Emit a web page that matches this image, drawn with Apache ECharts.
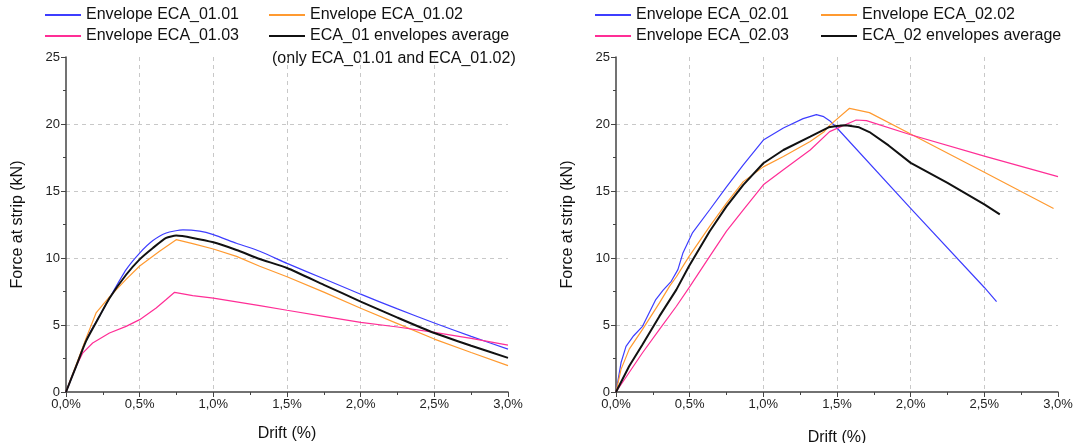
<!DOCTYPE html>
<html>
<head>
<meta charset="utf-8">
<script src="https://cdn.jsdelivr.net/npm/echarts@6/dist/echarts.min.js"></script>
<style>
  html, body { margin: 0; padding: 0; background: #fff; }
  #chart { width: 1073px; height: 443px; }
</style>
</head>
<body>
<div id="chart"></div>
<script>
// ECA_01 envelopes (drift in %, force in kN)
const d0101 = [0, 0.068, 0.136, 0.227, 0.295, 0.408, 0.5, 0.59, 0.68, 0.794, 0.907, 1.0, 1.157, 1.315, 1.5, 1.75, 2.0, 2.25, 2.5, 2.75, 3.0];
const f0101 = [0, 1.9, 3.9, 5.65, 7.0, 9.13, 10.37, 11.3, 11.87, 12.1, 12.0, 11.74, 11.1, 10.5, 9.6, 8.45, 7.3, 6.2, 5.15, 4.15, 3.2];

const d0102 = [0, 0.068, 0.136, 0.204, 0.295, 0.408, 0.5, 0.635, 0.748, 0.86, 1.0, 1.157, 1.315, 1.5, 1.75, 2.0, 2.25, 2.5, 2.75, 3.0];
const f0102 = [0, 2.0, 4.0, 5.9, 7.1, 8.4, 9.4, 10.5, 11.37, 11.07, 10.67, 10.12, 9.38, 8.6, 7.45, 6.25, 5.1, 3.95, 2.95, 1.97];

const d0103 = [0, 0.023, 0.068, 0.113, 0.181, 0.295, 0.408, 0.5, 0.612, 0.68, 0.737, 0.86, 1.0, 1.315, 1.5, 1.75, 2.0, 2.25, 2.5, 2.75, 3.0];
const f0103 = [0, 0.67, 1.9, 2.9, 3.66, 4.4, 4.9, 5.4, 6.27, 6.9, 7.44, 7.19, 7.0, 6.44, 6.1, 5.65, 5.2, 4.85, 4.45, 4.0, 3.5];

const d01avg = [0, 0.068, 0.136, 0.227, 0.295, 0.408, 0.5, 0.59, 0.68, 0.748, 0.86, 1.0, 1.157, 1.315, 1.5, 1.75, 2.0, 2.25, 2.5, 2.75, 3.0];
const f01avg = [0, 1.9, 3.8, 5.65, 7.0, 8.75, 9.9, 10.75, 11.5, 11.67, 11.5, 11.17, 10.6, 9.93, 9.25, 8.0, 6.75, 5.55, 4.4, 3.45, 2.55];

// ECA_02 envelopes
const d0201 = [0, 0.034, 0.068, 0.12, 0.18, 0.27, 0.32, 0.375, 0.42, 0.455, 0.52, 0.636, 0.75, 0.864, 1.0, 1.136, 1.27, 1.36, 1.41, 1.45, 1.5, 2.0, 2.5, 2.583];
const f0201 = [0, 2.18, 3.4, 4.2, 4.9, 6.9, 7.6, 8.26, 9.13, 10.4, 11.9, 13.6, 15.3, 16.95, 18.8, 19.7, 20.4, 20.7, 20.55, 20.25, 19.7, 13.7, 7.8, 6.74];

const d0202 = [0, 0.034, 0.09, 0.18, 0.295, 0.364, 0.41, 0.495, 0.636, 0.75, 0.864, 1.0, 1.136, 1.318, 1.41, 1.45, 1.585, 1.72, 2.0, 2.5, 2.97];
const f0202 = [0, 1.69, 3.2, 4.67, 6.65, 7.9, 8.6, 10.1, 12.36, 14.1, 15.7, 16.8, 17.57, 18.7, 19.4, 19.9, 21.17, 20.85, 19.26, 16.4, 13.7];

const d0203 = [0, 0.18, 0.295, 0.41, 0.495, 0.636, 0.75, 0.864, 1.0, 1.136, 1.318, 1.45, 1.63, 1.7, 2.0, 2.5, 3.0];
const f0203 = [0, 2.93, 4.67, 6.4, 7.77, 10.12, 12.0, 13.6, 15.46, 16.58, 18.06, 19.43, 20.3, 20.25, 19.2, 17.6, 16.07];

const d02avg = [0, 0.09, 0.18, 0.295, 0.41, 0.495, 0.636, 0.75, 0.864, 1.0, 1.136, 1.318, 1.443, 1.5, 1.56, 1.65, 1.72, 1.85, 2.0, 2.25, 2.5, 2.605];
const f02avg = [0, 1.94, 3.55, 5.66, 7.64, 9.38, 12.0, 13.85, 15.46, 17.07, 18.06, 19.06, 19.75, 19.85, 19.9, 19.75, 19.4, 18.4, 17.1, 15.6, 14.0, 13.26];

const xTicks = [0, 0.5, 1.0, 1.5, 2.0, 2.5, 3.0];
const yTicks = [0, 5, 10, 15, 20, 25];

const FONT = 'Liberation Sans, Arial, sans-serif';
const AXIS_COLOR = '#444';

const zip = (xs, ys) => xs.map((x, i) => [x, ys[i]]);

const chart = echarts.init(document.getElementById('chart'));

const makeX = (gridIndex, nameGap) => ({
  type: 'value',
  gridIndex,
  min: xTicks[0],
  max: xTicks[xTicks.length - 1],
  interval: 0.5,
  name: 'Drift (%)',
  nameLocation: 'middle',
  nameGap,
  nameTextStyle: { fontSize: 16, color: '#111', fontFamily: FONT },
  axisLine: { lineStyle: { color: AXIS_COLOR, width: 1.5 } },
  axisTick: { length: 5, lineStyle: { color: AXIS_COLOR } },
  minorTick: { show: true, splitNumber: 2, length: 3, lineStyle: { color: AXIS_COLOR } },
  axisLabel: {
    fontSize: 13, color: '#222', fontFamily: FONT, margin: 6,
    formatter: v => v.toFixed(1).replace('.', ',') + '%'
  },
  splitLine: {
    show: true, showMinLine: false, showMaxLine: false,
    lineStyle: { type: [4, 4], color: '#c8c8c8' }
  }
});

const makeY = (gridIndex) => ({
  type: 'value',
  gridIndex,
  min: yTicks[0],
  max: yTicks[yTicks.length - 1],
  interval: 5,
  name: 'Force at strip (kN)',
  nameLocation: 'middle',
  nameGap: 40,
  nameTextStyle: { fontSize: 16, color: '#111', fontFamily: FONT },
  axisLine: { show: true, lineStyle: { color: AXIS_COLOR, width: 1.5 } },
  axisTick: { show: true, length: 5, lineStyle: { color: AXIS_COLOR } },
  minorTick: { show: true, splitNumber: 2, length: 3, lineStyle: { color: AXIS_COLOR } },
  axisLabel: { fontSize: 13, color: '#222', fontFamily: FONT, margin: 6 },
  splitLine: {
    show: true, showMinLine: false, showMaxLine: false,
    lineStyle: { type: [4, 4], color: '#c8c8c8' }
  }
});

const BLUE = '#3d3dff';
const ORANGE = '#ff9a30';
const PINK = '#ff2e96';
const BLACK = '#111';

const seriesDefs = [
  { name: 'Envelope ECA_01.01', grid: 0, data: zip(d0101, f0101), color: BLUE, width: 1.2, smooth: 0.2 },
  { name: 'Envelope ECA_01.02', grid: 0, data: zip(d0102, f0102), color: ORANGE, width: 1.2, smooth: false },
  { name: 'Envelope ECA_01.03', grid: 0, data: zip(d0103, f0103), color: PINK, width: 1.2, smooth: false },
  { name: 'ECA_01 envelopes average', grid: 0, data: zip(d01avg, f01avg), color: BLACK, width: 2, smooth: 0.2 },
  { name: 'Envelope ECA_02.01', grid: 1, data: zip(d0201, f0201), color: BLUE, width: 1.2, smooth: false },
  { name: 'Envelope ECA_02.02', grid: 1, data: zip(d0202, f0202), color: ORANGE, width: 1.2, smooth: false },
  { name: 'Envelope ECA_02.03', grid: 1, data: zip(d0203, f0203), color: PINK, width: 1.2, smooth: false },
  { name: 'ECA_02 envelopes average', grid: 1, data: zip(d02avg, f02avg), color: BLACK, width: 2, smooth: false }
];

// legend slots, one per series
const legendPos = [
  [44, 7], [268, 7], [44, 28], [268, 28],
  [594, 7], [820, 7], [594, 28], [820, 28]
];

const option = {
  animation: false,
  textStyle: { fontFamily: FONT },
  grid: [
    { left: 66, top: 57, width: 442, height: 335, outerBoundsMode: 'none' },
    { left: 616, top: 57, width: 442, height: 335, outerBoundsMode: 'none' }
  ],
  xAxis: [makeX(0, 34), makeX(1, 38)],
  yAxis: [makeY(0), makeY(1)],
  legend: seriesDefs.map((s, i) => ({
    left: legendPos[i][0],
    top: legendPos[i][1],
    padding: 0,
    data: [s.name],
    itemWidth: 36,
    itemHeight: 14,
    itemGap: 4,
    itemStyle: { opacity: 0 },
    textStyle: { fontSize: 16, color: '#111', fontFamily: FONT }
  })),
  graphic: [{
    type: 'text',
    left: 272,
    top: 51,
    style: { text: '(only ECA_01.01 and ECA_01.02)', fontSize: 16, fill: '#111', fontFamily: FONT }
  }],
  series: seriesDefs.map(s => ({
    name: s.name,
    type: 'line',
    xAxisIndex: s.grid,
    yAxisIndex: s.grid,
    data: s.data,
    symbol: 'none',
    smooth: s.smooth,
    color: s.color,
    lineStyle: { color: s.color, width: s.width }
  }))
};

chart.setOption(option);
</script>
</body>
</html>
